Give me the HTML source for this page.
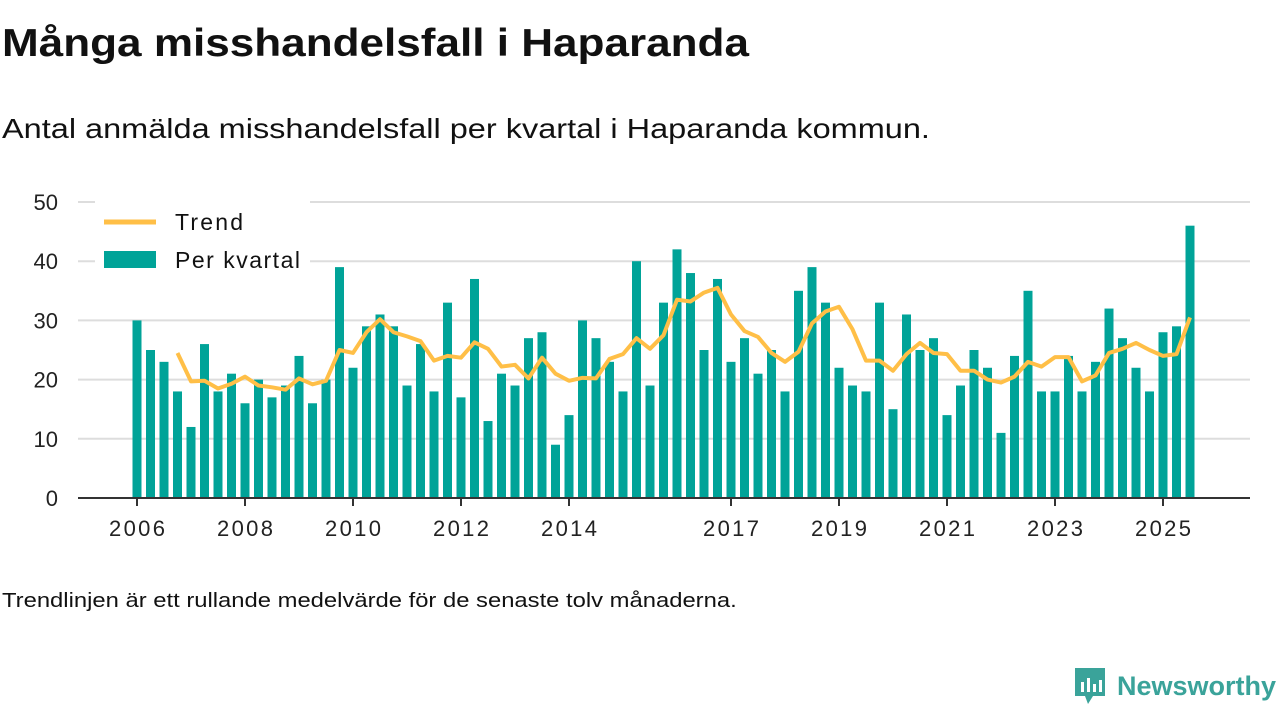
<!DOCTYPE html>
<html><head><meta charset="utf-8">
<style>
body{margin:0;width:1280px;height:720px;background:#fff;font-family:"Liberation Sans",sans-serif;color:#111;overflow:hidden;position:relative}
h1{position:absolute;left:2px;top:22px;margin:0;font-size:39px;font-weight:bold;transform:scaleX(1.13);transform-origin:0 0;white-space:nowrap}
.sub{position:absolute;left:2px;top:113px;font-size:28px;transform:scaleX(1.16);transform-origin:0 0;white-space:nowrap}
.foot{position:absolute;left:2px;top:590px;font-size:20px;transform:scaleX(1.19);transform-origin:0 0;white-space:nowrap}
.logo{position:absolute;left:1073px;top:666px;display:flex;align-items:center}
.logo span{font-size:27px;font-weight:bold;color:#3aa39a;margin-left:10px}
</style></head><body>
<h1>Många misshandelsfall i Haparanda</h1>
<div class="sub">Antal anmälda misshandelsfall per kvartal i Haparanda kommun.</div>
<svg id="chart" width="1280" height="560" style="position:absolute;left:0;top:0"></svg>
<div class="foot">Trendlinjen är ett rullande medelvärde för de senaste tolv månaderna.</div>
<div class="logo">
<svg width="34" height="40" viewBox="0 0 34 40"><path d="M2 2h30v28h-12l-5 8-3-8H2z" fill="#3aa39a"/><rect x="8" y="16" width="3" height="10" fill="#fff"/><rect x="14" y="12" width="3" height="14" fill="#fff"/><rect x="20" y="18" width="3" height="8" fill="#fff"/><rect x="26" y="14" width="3" height="12" fill="#fff"/></svg>
<span>Newsworthy</span></div>
<script>
const yTicks=[0,10,20,30,40,50];
const xTickLabels=["2006","2008","2010","2012","2014","2017","2019","2021","2023","2025"];
const xTickYears=[2006,2008,2010,2012,2014,2017,2019,2021,2023,2025];
const perKvartal=[30,25,23,18,12,26,18,21,16,20,17,19,24,16,20,39,22,29,31,29,19,26,18,33,17,37,13,21,19,27,28,9,14,30,27,23,18,40,19,33,42,38,25,37,23,27,21,25,18,35,39,33,22,19,18,33,15,31,25,27,14,19,25,22,11,24,35,18,18,24,18,23,32,27,22,18,28,29,46];
const trendStart=3;
const trend=[24.5,19.7,19.8,18.5,19.3,20.5,19,18.7,18.3,20.2,19.2,19.8,25,24.5,28,30.2,28,27.3,26.5,23.2,24,23.7,26.3,25.2,22.2,22.5,20.2,23.7,21,19.8,20.3,20.2,23.5,24.3,27,25.2,27.5,33.5,33.2,34.7,35.5,31,28.2,27.2,24.5,23,24.7,29.5,31.5,32.3,28.5,23.2,23.2,21.5,24.3,26.2,24.5,24.3,21.5,21.5,20,19.5,20.5,23,22.2,23.8,23.8,19.7,20.7,24.5,25.2,26.2,25,24,24.3,30.5];
const svg=document.getElementById('chart');const NS='http://www.w3.org/2000/svg';
const y=v=>498-v*5.92;
const x=i=>137+i*13.5;
const xYear=yr=>137+(yr-2006)*54;
function mk(t,a){const e=document.createElementNS(NS,t);for(const k in a)e.setAttribute(k,a[k]);svg.appendChild(e);return e;}
yTicks.forEach(v=>{
 if(v>0){const g=mk('line',{x1:78,x2:1250,y1:y(v),y2:y(v),stroke:'#ddd','stroke-width':2});
 
 }
 const t=mk('text',{x:58,y:y(v)+8,'text-anchor':'end','font-size':22,fill:'#222'});t.textContent=v;
 
 
});
perKvartal.forEach((v,i)=>{const b=mk('rect',{x:x(i)-4.5,y:y(v),width:9,height:498-y(v),fill:'#00a398'});
 
 });
const pts=trend.map((v,j)=>x(j+trendStart)+','+y(v)).join(' ');
const tl=mk('polyline',{points:pts,fill:'none',stroke:'#ffbf47','stroke-width':4,'stroke-linejoin':'round'});


const ax=mk('line',{x1:78,x2:1250,y1:498,y2:498,stroke:'#333','stroke-width':2});


xTickYears.forEach((yr,k)=>{const xx=xYear(yr);
 const tk=mk('line',{x1:xx,x2:xx,y1:498,y2:506,stroke:'#333','stroke-width':2});
 
 
 const t=mk('text',{x:xx,y:536,'text-anchor':'middle','font-size':22,fill:'#222','textLength':56});t.textContent=xTickLabels[k];
 
 });
const lb=mk('rect',{x:95,y:198,width:215,height:84,fill:'#fff'});


const l1=mk('line',{x1:104,x2:156,y1:222,y2:222,stroke:'#ffbf47','stroke-width':5});


const t1=mk('text',{x:175,y:230,'font-size':23,fill:'#111','textLength':68});t1.textContent='Trend';


const l2=mk('rect',{x:104,y:251,width:52,height:17,fill:'#00a398'});


const t2=mk('text',{x:175,y:268,'font-size':23,fill:'#111','textLength':125});t2.textContent='Per kvartal';


</script>
</body></html>
